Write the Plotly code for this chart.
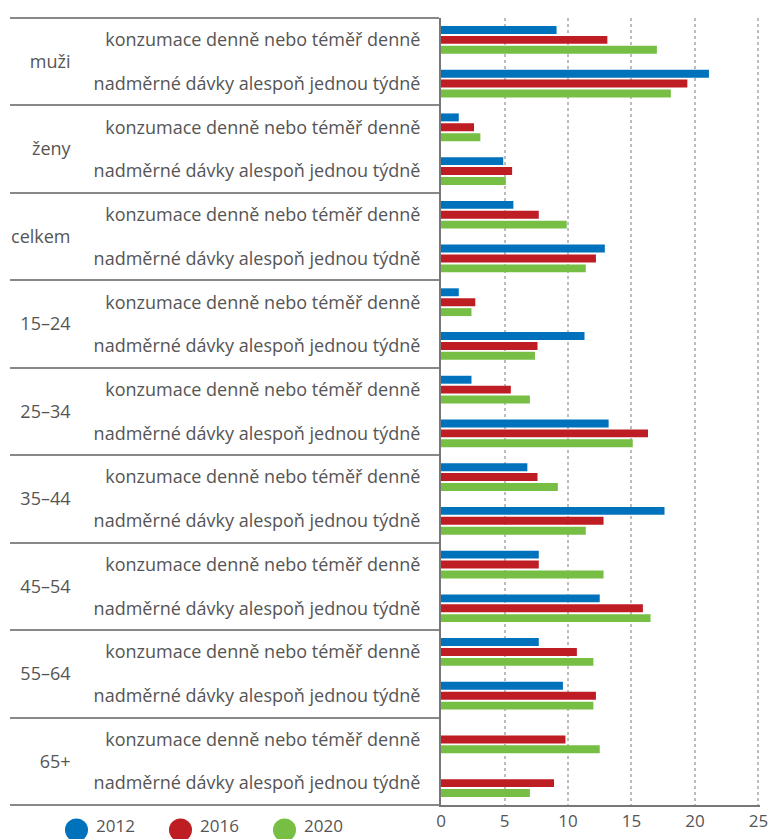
import plotly.graph_objects as go

groups = ["muži", "ženy", "celkem", "15–24", "25–34", "35–44", "45–54", "55–64", "65+"]
measures = ["konzumace denně nebo téměř denně", "nadměrné dávky alespoň jednou týdně"]
years = ["2012", "2016", "2020"]
colors = ["#0072BC", "#BE1E23", "#77BF44"]

v2012 = [9.1, 21.1, 1.4, 4.9, 5.7, 12.9, 1.4, 11.3, 2.4, 13.2, 6.8, 17.6, 7.7, 12.5, 7.7, 9.6, None, None]
v2016 = [13.1, 19.4, 2.6, 5.6, 7.7, 12.2, 2.7, 7.6, 5.5, 16.3, 7.6, 12.8, 7.7, 15.9, 10.7, 12.2, 9.8, 8.9]
v2020 = [17.0, 18.1, 3.1, 5.1, 9.9, 11.4, 2.4, 7.4, 7.0, 15.1, 9.2, 11.4, 12.8, 16.5, 12.0, 12.0, 12.5, 7.0]
x_ticks = [0, 5, 10, 15, 20, 25]

PAD = "\u00a0" * 6
outer = [g + PAD for g in groups for _ in measures]
inner = [m for _ in groups for m in measures]

FONT = "Open Sans"
TXT = "#555555"

fig = go.Figure()
for name, vals, col in zip(years, [v2012, v2016, v2020], colors):
    fig.add_trace(go.Bar(y=[outer, inner], x=vals, name=name, orientation="h",
                         marker=dict(color=col, line=dict(width=0)), showlegend=False))

W, H = 769, 839
L, T = 441, 18
R = W - 760
B = H - 805
pw, ph = W - L - R, H - T - B

def px_x(p):
    return (p - L) / pw

def px_y(p):
    return (H - B - p) / ph

shapes = []
annotations = []
leg_cx = [76.5, 180.5, 284.5]
leg_tx = [96, 199.5, 304]
for cx, tx, col, name in zip(leg_cx, leg_tx, colors, years):
    shapes.append(dict(type="circle", xref="paper", yref="paper",
                       xsizemode="pixel", ysizemode="pixel",
                       xanchor=px_x(cx), yanchor=px_y(830),
                       x0=-11.5, x1=11.5, y0=-11.5, y1=11.5,
                       fillcolor=col, line=dict(width=0)))
    annotations.append(dict(text=name, xref="paper", yref="paper",
                            x=px_x(tx - 2), y=px_y(826), xanchor="left", yanchor="middle",
                            showarrow=False, font=dict(family=FONT, size=17, color=TXT)))

fig.update_layout(
    width=W, height=H,
    margin=dict(l=L, r=R, t=T, b=B),
    paper_bgcolor="white", plot_bgcolor="white",
    barmode="group", bargap=0.32, bargroupgap=0.2,
    font=dict(family=FONT, size=18, color=TXT),
    shapes=shapes, annotations=annotations,
    xaxis=dict(range=[0, 25.12], tickvals=x_ticks, showgrid=True, gridcolor="#bdbdbd",
               griddash="3px,3px", gridwidth=1.5, zeroline=False, showline=True,
               linecolor="#777777", linewidth=2, ticks="", tickfont=dict(size=17),
               ticklabeloverflow="allow",
               automargin=False, fixedrange=True),
    yaxis=dict(type="multicategory", autorange="reversed", showline=True,
               linecolor="#777777", linewidth=2, ticks="", showdividers=True,
               dividercolor="#888888", dividerwidth=2, tickfont=dict(size=18),
               ticklabelstandoff=15,
               automargin=False, showgrid=False, zeroline=False),
)

fig.write_html("out.html", config={"displayModeBar": False},
               post_script="document.body.style.margin='0';document.body.style.overflow='hidden';")
